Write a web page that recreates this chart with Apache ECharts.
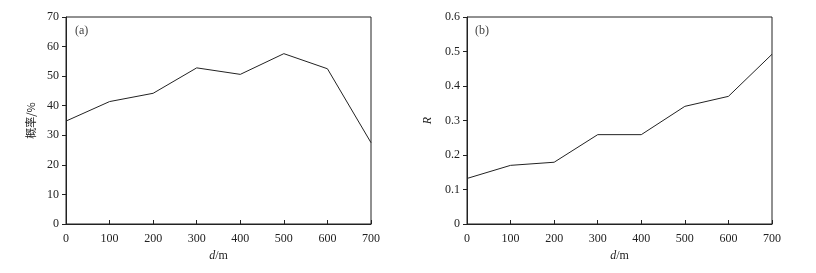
<!DOCTYPE html>
<html>
<head>
<meta charset="utf-8">
<script src="https://cdn.jsdelivr.net/npm/echarts@6/dist/echarts.min.js"></script>
<style>
  html, body { margin: 0; padding: 0; background: #fff; }
  #chart { width: 816px; height: 273px; }
</style>
</head>
<body>
<div id="chart"></div>
<script>
// distance, m
const distances = [0, 100, 200, 300, 400, 500, 600, 700];
// (a) probability, %
const probability = [34.8, 41.4, 44.2, 52.8, 50.6, 57.6, 52.5, 27.5];
// (b) R
const rValues = [0.132, 0.170, 0.179, 0.259, 0.259, 0.341, 0.370, 0.492];

const serif = '"Liberation Serif", "DejaVu Serif", serif';
const cjk = '"Noto Sans CJK SC", sans-serif';
const ink = '#222';

function xAxisFor(idx) {
  return {
    type: 'value', gridIndex: idx, min: 0, max: 700, interval: 100,
    name: '{i|d}/m', nameLocation: 'middle', nameGap: 24,
    nameTextStyle: {
      color: ink, fontFamily: serif, fontSize: 12,
      rich: { i: { fontStyle: 'italic', fontFamily: serif, fontSize: 12, color: ink } }
    },
    axisLine: { lineStyle: { color: ink, width: 1 } },
    axisTick: { inside: true, length: 4, lineStyle: { color: ink } },
    axisLabel: { color: ink, fontFamily: serif, fontSize: 12, margin: 9 },
    splitLine: { show: false }
  };
}

const myChart = echarts.init(document.getElementById('chart'));

let option = {
  animation: false,
  title: [
    { text: '(a)', left: 70, top: 20, textStyle: { fontFamily: serif, fontSize: 12, fontWeight: 'normal', color: '#444' } },
    { text: '(b)', left: 470, top: 20, textStyle: { fontFamily: serif, fontSize: 12, fontWeight: 'normal', color: '#444' } }
  ],
  grid: [
    { left: 66, right: 445, top: 17, bottom: 49, show: true, borderColor: ink, borderWidth: 1 },
    { left: 467, right: 44, top: 17, bottom: 49, show: true, borderColor: ink, borderWidth: 1 }
  ],
  xAxis: [xAxisFor(0), xAxisFor(1)],
  yAxis: [
    {
      type: 'value', gridIndex: 0, min: 0, max: 70, interval: 10,
      name: '概率/%', nameLocation: 'middle', nameGap: 30,
      nameTextStyle: { color: ink, fontFamily: cjk, fontSize: 11 },
      axisLine: { show: true, lineStyle: { color: ink } },
      axisTick: { show: true, length: 4, lineStyle: { color: ink } },
      axisLabel: { color: ink, fontFamily: serif, fontSize: 12, margin: 7 },
      splitLine: { show: false }
    },
    {
      type: 'value', gridIndex: 1, min: 0, max: 0.6, interval: 0.1,
      name: 'R', nameLocation: 'middle', nameGap: 33,
      nameTextStyle: { color: ink, fontFamily: serif, fontSize: 12, fontStyle: 'italic' },
      axisLine: { show: true, lineStyle: { color: ink } },
      axisTick: { show: true, length: 4, lineStyle: { color: ink } },
      axisLabel: { color: ink, fontFamily: serif, fontSize: 12, margin: 7, formatter: v => v === 0 ? '0' : v.toFixed(1) },
      splitLine: { show: false }
    }
  ],
  series: [
    {
      type: 'line', xAxisIndex: 0, yAxisIndex: 0, showSymbol: false,
      lineStyle: { color: ink, width: 1 },
      data: distances.map((d, i) => [d, probability[i]])
    },
    {
      type: 'line', xAxisIndex: 1, yAxisIndex: 1, showSymbol: false,
      lineStyle: { color: ink, width: 1 },
      data: distances.map((d, i) => [d, rValues[i]])
    }
  ]
};
myChart.setOption(option);
</script>
</body>
</html>
